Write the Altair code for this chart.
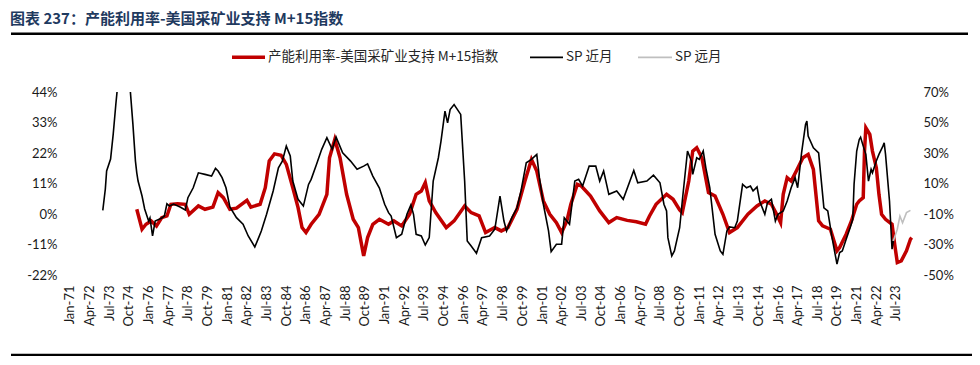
import altair as alt
import pandas as pd

# ---------------- data ----------------
red_dates = ["1975-04","1975-08","1975-11","1976-03","1976-07","1976-11","1977-03","1977-06","1977-11",
"1978-05","1978-08","1979-03","1979-08","1980-02","1980-06","1980-10","1981-03","1981-08","1982-04",
"1982-07","1983-02","1983-06","1983-09","1984-01","1984-06","1984-10","1985-03","1985-07","1985-10",
"1986-01","1986-05","1986-11","1987-05","1987-07","1987-11","1988-03","1988-08","1989-01","1989-05",
"1989-09","1989-12","1990-04","1990-09","1991-04","1991-08","1992-02","1992-08","1993-01","1993-05",
"1993-08","1993-11","1994-04","1994-12","1995-06","1996-02","1996-07","1997-01","1997-06","1998-01",
"1998-06","1998-11","1999-06","1999-12","2000-05","2000-09","2001-02","2001-07","2001-12","2002-04",
"2002-08","2002-11","2003-04","2003-07","2004-02","2004-09","2005-04","2005-10","2006-06","2007-01",
"2007-08","2007-11","2008-04","2008-12","2009-05","2009-10","2009-12","2010-05","2010-08","2010-11",
"2011-03","2011-08","2012-01","2012-07","2012-12","2013-06","2014-02","2014-09","2015-03","2015-08",
"2015-12","2016-03","2016-05","2016-08","2016-11","2017-03","2017-08","2017-12","2018-04","2018-08",
"2018-11","2019-05","2019-10","2019-12","2020-05","2020-09","2021-01","2021-03","2021-06","2021-07",
"2021-08","2021-11","2022-01","2022-04","2022-06","2022-08","2022-11","2023-04","2023-06","2023-08",
"2023-11","2024-03","2024-06","2024-07"]
red_values = [1.7,-5.5,-3.7,-2.5,-4.3,-1.3,-0.7,3.5,3.7,
3.5,-0.1,2.9,1.7,2.5,7.7,5.9,1.7,2.1,4.9,
2.5,3.5,9.5,19.1,21.7,21.2,17.9,9.5,2.3,-4.9,
-6.7,-3.7,-0.1,7.1,20.3,26.9,20.3,7.1,-1.9,-4.9,
-15.1,-8.5,-3.7,-1.9,-3.7,-2.5,-4.3,-0.1,7.1,8.3,
11.3,4.7,0.5,-4.9,-2.5,2.9,0.5,-0.7,-6.7,-4.9,
-6.1,-4.9,1.7,11.9,19.7,15.5,4.7,-0.1,-3.1,-6.7,
-2.5,3.5,10.7,10.1,6.5,1.1,-3.1,-1.3,-2.3,-2.8,
-3.7,-0.7,3.5,7.1,5.3,1.5,0.5,11.9,22.7,23.9,
20.3,7.7,6.5,-0.1,-6.7,-4.9,-0.1,2.9,4.7,3.5,
-0.1,-3.1,7.1,13.1,11.9,15.5,20.3,21.5,16.1,-2.5,
-4.3,-5.5,-13.3,-12.1,-7.3,-2.5,3.5,4.7,5.9,22.7,
31.1,28.7,22.7,16.7,7.1,-0.1,-1.9,-3.7,-10.9,-17.5,
-16.9,-13.3,-9.1,-8.5]

near_dates = ["1973-02","1973-04","1973-05","1973-08","1973-10","1973-12","1974-01","1974-03","1974-06",
"1974-09","1974-11","1975-01","1975-03","1975-04","1975-05","1975-08","1975-10","1976-01","1976-02",
"1976-04","1976-06","1976-11","1977-01","1977-03","1977-05","1977-08","1978-01","1978-05","1978-07",
"1978-11","1979-03","1979-08","1980-01","1980-04","1980-06","1980-09","1980-12","1981-03","1981-08",
"1982-01","1982-05","1982-10","1983-01","1983-03","1983-07","1983-12","1984-04","1984-07","1984-10",
"1985-01","1985-03","1985-07","1985-11","1986-03","1986-05","1986-09","1987-01","1987-05","1987-09",
"1987-12","1988-05","1988-11","1989-04","1989-09","1989-12","1990-04","1990-09","1991-01","1991-04",
"1991-06","1991-10","1992-02","1992-06","1992-09","1992-11","1993-01","1993-05","1993-08","1993-11",
"1994-02","1994-06","1994-08","1994-11","1995-01","1995-03","1995-06","1995-11","1996-02","1996-04",
"1996-07","1996-11","1997-03","1997-09","1998-01","1998-05","1998-08","1998-10","1999-02","1999-06",
"1999-09","2000-01","2000-05","2000-09","2000-11","2001-02","2001-06","2001-08","2001-12","2002-04",
"2002-06","2002-10","2003-02","2003-05","2003-08","2004-01","2004-06","2004-09","2004-12","2005-04",
"2005-10","2006-03","2006-11","2007-02","2007-09","2008-02","2008-07","2008-10","2008-12","2009-01",
"2009-04","2009-06","2009-10","2009-12","2010-04","2010-07","2010-08","2010-11","2011-01","2011-04",
"2011-06","2011-09","2012-01","2012-05","2012-07","2012-10","2012-12","2013-04","2013-06","2013-10",
"2014-01","2014-04","2014-06","2014-09","2014-11","2015-03","2015-05","2015-08","2015-11","2016-01",
"2016-05","2016-08","2016-11","2017-02","2017-04","2017-07","2017-10","2017-11","2017-12","2018-04",
"2018-08","2018-12","2019-03","2019-06","2019-10","2019-12","2020-02","2020-05","2020-08","2020-10",
"2020-11","2021-01","2021-03","2021-04","2021-06","2021-08","2021-10","2021-12","2022-01","2022-04",
"2022-06","2022-09","2022-10","2022-11","2023-02","2023-04","2023-05"]
near_values = [-7.6,6.4,18.2,26,42.4,62,71,90,100,
88,71,48.9,24.7,17,11.6,1.8,-6.7,-14.6,-12.6,
-24.4,-14.6,-12.6,-11.3,-3.3,-4.8,-3.5,-5.4,-7.4,0.7,
7.2,17,16,14.9,19.9,18.2,13.8,7.2,-5.4,-12.4,
-16.7,-24.4,-31.6,-25.3,-21.1,-10.2,5.1,20.3,24.7,34.5,
28,11.6,-0.4,-4.8,9.4,12.7,22.5,32.4,40,32.4,
40.4,30.1,24.7,19.3,21.4,22.9,14.9,7,-3.6,-9.1,
-11.3,-25.5,-23.3,-10.2,-4.1,-10.2,-23.3,-24.4,-30.3,-25.5,
11.6,26.9,37.8,57.4,49.8,58.5,61.8,55.3,11.6,-27.7,
-31,-35.7,-25.5,-24.4,-20,1.8,-14.6,-21.1,-12.4,-5.9,
5.1,23.6,25.8,29.1,13.8,-3.6,-21.1,-34.7,-29.8,-29.8,
-12.4,-16.7,11.6,12.7,8.3,21.4,21.4,11.6,18.2,2.9,
5.1,-0.4,18.6,10.5,11.6,15.5,10.5,-3.6,-8,-25.5,
-37.5,-34.2,-19,-1.5,31.3,24.7,16,26.9,25.8,31.3,
20.3,7.2,-23.3,-34.2,-36.4,-21.1,-18.5,-19,-14.6,9.4,
7.2,8.3,5.1,7.7,-1.5,-10.2,-2.6,-0.4,-14.6,-10.2,
-8,-1.5,7.2,13.8,7.2,30.1,48.7,50.9,41.1,33.4,
30.1,-5.9,-8,-24.4,-42.9,-35.3,-34.2,-26.6,-19,-13.5,
9.7,31.3,38.9,40.4,34.5,29.1,11.6,19.3,17,24.7,
29.1,34.5,36.7,29.1,-1.5,-33.1,-27.7]

far_dates = ["2023-05","2023-08","2023-10","2023-12","2024-03","2024-06"]
far_values = [-27.7,-20,-11.3,-15.7,-9.1,-7.6]

tick_labels = ["Jan-71","Apr-72","Jul-73","Oct-74","Jan-76","Apr-77","Jul-78","Oct-79","Jan-81","Apr-82",
"Jul-83","Oct-84","Jan-86","Apr-87","Jul-88","Oct-89","Jan-91","Apr-92","Jul-93","Oct-94","Jan-96",
"Apr-97","Jul-98","Oct-99","Jan-01","Apr-02","Jul-03","Oct-04","Jan-06","Apr-07","Jul-08","Oct-09",
"Jan-11","Apr-12","Jul-13","Oct-14","Jan-16","Apr-17","Jul-18","Oct-19","Jan-21","Apr-22","Jul-23"]
left_ticks = [-22, -11, 0, 11, 22, 33, 44]
right_ticks = [-50, -30, -10, 10, 30, 50, 70]

title_text = "图表 237：产能利用率-美国采矿业支持 M+15指数"
name_red = "产能利用率-美国采矿业支持 M+15指数"
name_near = "SP 近月"
name_far = "SP 远月"

# ---------------- tables ----------------
df_red = pd.DataFrame({"date": pd.to_datetime(red_dates, format="%Y-%m"), "value": red_values})
df_sp = pd.concat([
    pd.DataFrame({"date": pd.to_datetime(near_dates, format="%Y-%m"), "value": near_values, "series": name_near}),
    pd.DataFrame({"date": pd.to_datetime(far_dates, format="%Y-%m"), "value": far_values, "series": name_far}),
])
tick_dates = pd.to_datetime(tick_labels, format="%b-%y")
x_values = [alt.DateTime(year=int(d.year), month=int(d.month), date=1) for d in tick_dates]

FONT_NUM = "Lato"
FONT_CJK = "Noto Sans CJK SC"
LABEL_COLOR = "#1a1a1a"

xscale = alt.Scale(domain=[alt.DateTime(year=1970, month=10, date=1),
                           alt.DateTime(year=2024, month=9, date=15)])

def x_axis():
    return alt.Axis(values=x_values, format="%b-%y", labelAngle=270, labelPadding=10,
                    ticks=False, domain=False, grid=False, labelFont=FONT_NUM,
                    labelFontSize=13, labelColor=LABEL_COLOR, labelOverlap=False,
                    labelBound=False, labelFlush=False, labelSeparation=0)

red = alt.Chart(df_red).mark_line(color="#C00000", strokeWidth=3.5, clip=True).encode(
    x=alt.X("date:T", scale=xscale, title=None, axis=x_axis()),
    y=alt.Y("value:Q", title=None, scale=alt.Scale(domain=[-22, 44], nice=False, zero=False),
            axis=alt.Axis(orient="left", values=left_ticks, labelExpr="datum.value + '%'",
                          ticks=False, domain=False, grid=False, labelPadding=9,
                          labelFont=FONT_NUM, labelFontSize=13, labelColor=LABEL_COLOR)),
)

sp = alt.Chart(df_sp).mark_line(strokeWidth=1.6, clip=True).encode(
    x=alt.X("date:T", scale=xscale, title=None, axis=x_axis()),
    y=alt.Y("value:Q", title=None, scale=alt.Scale(domain=[-50, 70], nice=False, zero=False),
            axis=alt.Axis(orient="right", values=right_ticks, labelExpr="datum.value + '%'",
                          ticks=False, domain=False, grid=False, labelPadding=8,
                          labelFont=FONT_NUM, labelFontSize=13, labelColor=LABEL_COLOR)),
    color=alt.Color("series:N", legend=None,
                    scale=alt.Scale(domain=[name_near, name_far], range=["#000000", "#BFBFBF"])),
)

one = pd.DataFrame({"k": [0]})

title = alt.Chart(one).mark_text(align="left", baseline="alphabetic", font=FONT_CJK,
                                 fontSize=15, fontWeight="bold", color="#1F3A5F").encode(
    x=alt.value(-56), y=alt.value(-68.5), text=alt.value(title_text))
top_rule = alt.Chart(one).mark_rule(color="#000000", strokeWidth=2.5).encode(
    x=alt.value(-55), x2=alt.value(902), y=alt.value(-58.3))
bottom_rule = alt.Chart(one).mark_rule(color="#000000", strokeWidth=2.5).encode(
    x=alt.value(-55), x2=alt.value(906), y=alt.value(263))

LEG_Y = -34.7
leg_items = []
for x0, x1, col, w, name in [(166, 199, "#C00000", 3.5, name_red),
                             (464, 497, "#000000", 1.8, name_near),
                             (572, 606, "#BFBFBF", 1.8, name_far)]:
    leg_items.append(alt.Chart(one).mark_rule(color=col, strokeWidth=w).encode(
        x=alt.value(x0), x2=alt.value(x1), y=alt.value(LEG_Y)))
    leg_items.append(alt.Chart(one).mark_text(align="left", baseline="middle", font=FONT_CJK,
                                              fontSize=13.5, color="#262626").encode(
        x=alt.value(x1 + 3), y=alt.value(LEG_Y), text=alt.value(name)))

chart = alt.layer(red, sp, title, top_rule, bottom_rule, *leg_items).resolve_scale(
    y="independent", color="independent"
).properties(
    width=849, height=183,
    autosize=alt.AutoSizeParams(type="none"),
    padding={"left": 58, "top": 84, "right": 57, "bottom": 81},
).configure_view(stroke=None).configure_axis(labelOverlap=False)

chart.save("out.html", embed_options={"renderer": "svg", "actions": False})
